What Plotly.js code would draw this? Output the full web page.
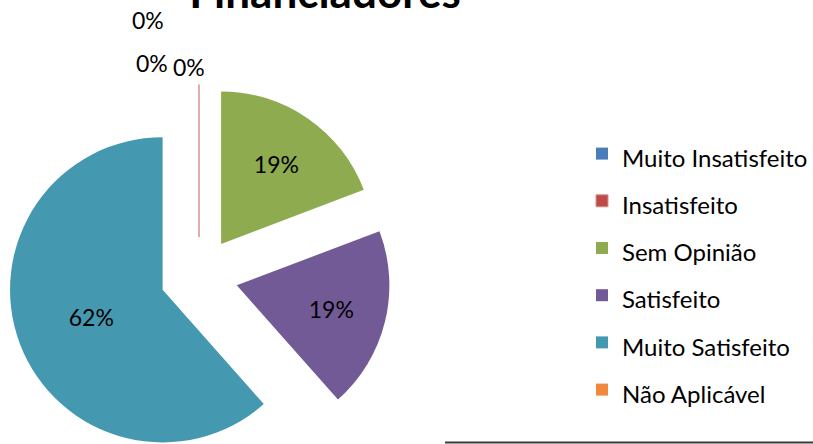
<!DOCTYPE html>
<html>
<head>
<meta charset="utf-8">
<script src="https://cdn.plot.ly/plotly-3.0.1.min.js"></script>
<style>html,body{margin:0;padding:0;overflow:hidden;background:#fff;}</style>
</head>
<body>
<div id="chart"></div>
<script>
const categories = ["Muito Insatisfeito", "Insatisfeito", "Sem Opinião", "Satisfeito", "Muito Satisfeito", "Não Aplicável"];
const values = [0, 0, 5, 5, 16, 0];
const colors = ["#4A7EBB", "#BE4B48", "#8EAB4F", "#725A96", "#4499B0", "#F0883E"];
const zeroLabels = ["0%", "0%", "0%"];

const W = 813, H = 470;
const px = x => x / W;
const py = y => (H - y) / H;

const trace = {
  type: "pie",
  labels: categories.map(c => '<span style="font-size:24px">' + c + '</span>'),
  values: values,
  sort: false,
  direction: "clockwise",
  rotation: 0,
  pull: values.map(() => 0.255),
  marker: {
    colors: colors,
    line: {color: colors.map((c, i) => i === 1 ? "#D9928F" : "rgba(0,0,0,0)"), width: values.map((v, i) => i === 1 ? 1 : 0)}
  },
  texttemplate: values.map(v => v > 0 ? "%{percent:.0%}" : ""),
  textposition: "inside",
  insidetextorientation: "horizontal",
  insidetextfont: {family: "Lato, sans-serif", size: 23, color: "#000"},
  domain: {x: [px(7.5), px(390.5)], y: [py(467.5), py(84.5)]},
  hoverinfo: "label+percent",
  automargin: false
};

const zeroFont = {size: 23, family: "Lato, sans-serif", color: "#000"};

const layout = {
  width: W,
  height: H,
  margin: {l: 0, r: 0, t: 0, b: 0},
  paper_bgcolor: "#fff",
  font: {family: "Lato, sans-serif", color: "#000"},
  title: {
    text: "<b>Financiadores</b>",
    font: {family: "Lato, sans-serif", size: 44, color: "#000"},
    x: px(325), xanchor: "center", xref: "paper",
    y: 1 - 8 / H, yanchor: "bottom", yref: "container"
  },
  showlegend: true,
  legend: {
    x: px(582), xanchor: "left",
    y: py(125), yanchor: "top",
    font: {family: "Lato, sans-serif", size: 34, color: "#000"},
    bgcolor: "rgba(0,0,0,0)"
  },
  annotations: [
    {text: zeroLabels[0], x: px(148), y: py(20), xref: "paper", yref: "paper", xanchor: "center", yanchor: "middle", showarrow: false, font: zeroFont},
    {text: zeroLabels[1], x: px(152), y: py(63), xref: "paper", yref: "paper", xanchor: "center", yanchor: "middle", showarrow: false, font: zeroFont},
    {text: zeroLabels[2], x: px(189), y: py(67), xref: "paper", yref: "paper", xanchor: "center", yanchor: "middle", showarrow: false, font: zeroFont}
  ],
  shapes: [
    {type: "line", xref: "paper", yref: "paper", x0: px(445), x1: 1, y0: py(442.5), y1: py(442.5), line: {color: "#3a3a3a", width: 2}}
  ]
};

Plotly.newPlot("chart", [trace], layout, {displayModeBar: false, staticPlot: true});
</script>
</body>
</html>
